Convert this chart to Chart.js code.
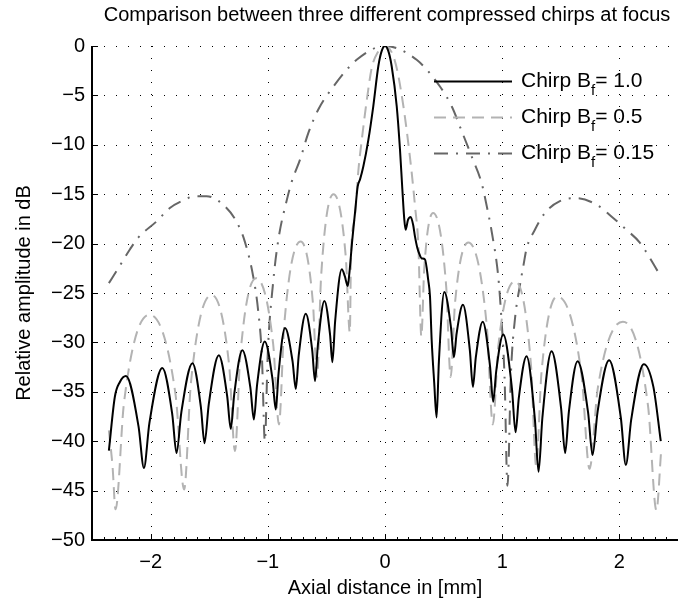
<!DOCTYPE html>
<html>
<head>
<meta charset="utf-8">
<script src="https://cdn.jsdelivr.net/npm/chart.js@4/dist/chart.umd.min.js"></script>
<style>
  html, body { margin: 0; padding: 0; background: #ffffff; }
  #wrap { width: 690px; height: 601px; position: relative; }
</style>
</head>
<body>
<div id="wrap"><canvas id="c" width="690" height="601"></canvas></div>
<script>
// ---------------- data ----------------
const chartTitle = 'Comparison between three different compressed chirps at focus';
const xAxisTitle = 'Axial distance in [mm]';
const yAxisTitle = 'Relative amplitude in dB';

const xTickValues = [-2, -1, 0, 1, 2];
const xTickLabels = ['\u22122', '\u22121', '0', '1', '2'];
const yTickValues = [-50, -45, -40, -35, -30, -25, -20, -15, -10, -5, 0];
const yTickLabels = ['\u221250', '\u221245', '\u221240', '\u221235', '\u221230', '\u221225', '\u221220', '\u221215', '\u221210', '\u22125', '0'];

const seriesMain = ['Chirp B', 'Chirp B', 'Chirp B'];
const seriesSub  = ['f', 'f', 'f'];
const seriesRest = ['= 1.0', '= 0.5', '= 0.15'];

// Chirp Bf = 1.0  [axial distance mm, amplitude dB]
const chirp10 = [
  [-2.356,-40.95],[-2.305,-35.5],[-2.262,-34.0],[-2.210,-33.4],[-2.103,-38.5],[-2.057,-42.7],
  [-2.010,-38.15],[-1.900,-32.6],[-1.815,-37.3],[-1.779,-41.2],[-1.738,-37.1],[-1.643,-32.1],
  [-1.571,-36.55],[-1.540,-40.2],[-1.503,-36.2],[-1.418,-31.3],[-1.347,-35.4],[-1.316,-38.75],
  [-1.286,-35.2],[-1.217,-30.8],[-1.148,-34.65],[-1.119,-37.8],[-1.091,-34.25],[-1.026,-29.9],
  [-0.960,-33.7],[-0.932,-36.8],[-0.908,-33.1],[-0.853,-28.55],[-0.789,-31.9],[-0.761,-34.7],
  [-0.736,-31.3],[-0.676,-27.1],[-0.621,-30.8],[-0.597,-33.9],[-0.573,-30.3],[-0.517,-25.8],
  [-0.469,-29.2],[-0.449,-32.0],[-0.425,-27.8],[-0.369,-22.6],[-0.343,-23.3],[-0.318,-24.3],
  [-0.304,-23.0],[-0.279,-19.6],[-0.256,-16.9],[-0.233,-14.2],[-0.213,-13.5],[-0.185,-12.2],
  [-0.142,-9.5],[-0.100,-6.1],[-0.057,-2.05],[-0.028,-0.5],[0.000,0.0],[0.028,-0.5],
  [0.057,-2.05],[0.100,-6.1],[0.128,-10.5],[0.148,-14.5],[0.165,-17.6],[0.176,-18.6],
  [0.196,-17.6],[0.219,-17.3],[0.240,-18.1],[0.256,-19.3],[0.276,-20.45],[0.298,-21.2],
  [0.313,-21.5],[0.341,-21.6],[0.369,-23.7],[0.384,-25.35],[0.398,-29.7],[0.420,-34.1],
  [0.440,-37.6],[0.460,-31.9],[0.506,-24.9],[0.563,-28.5],[0.588,-31.5],[0.611,-29.1],
  [0.665,-26.2],[0.724,-30.8],[0.750,-34.5],[0.775,-31.5],[0.834,-27.9],[0.896,-32.4],
  [0.923,-36.0],[0.949,-32.9],[1.009,-29.2],[1.083,-34.65],[1.114,-39.1],[1.142,-35.6],
  [1.208,-31.4],[1.279,-37.8],[1.310,-43.1],[1.343,-37.6],[1.421,-30.9],[1.502,-36.6],
  [1.537,-41.2],[1.569,-37.0],[1.643,-31.9],[1.733,-37.1],[1.771,-41.4],[1.813,-37.1],
  [1.912,-31.8],[2.012,-37.6],[2.055,-42.4],[2.101,-37.8],[2.208,-32.2],[2.290,-34.5],
  [2.353,-40.0]
];

// Chirp Bf = 0.5
const chirp05 = [
  [-2.356,-38.9],[-2.325,-42.5],[-2.299,-46.9],[-2.227,-36.1],[-2.010,-27.2],[-1.788,-35.2],
  [-1.714,-44.9],[-1.656,-34.1],[-1.480,-25.2],[-1.330,-32.3],[-1.280,-41.0],[-1.235,-31.4],
  [-1.100,-23.5],[-0.954,-30.2],[-0.905,-38.3],[-0.859,-28.1],[-0.720,-19.8],[-0.615,-26.0],
  [-0.580,-33.5],[-0.545,-23.3],[-0.440,-15.0],[-0.335,-21.3],[-0.300,-29.0],[-0.290,-21.3],
  [-0.256,-17.2],[-0.228,-12.7],[-0.194,-9.1],[-0.151,-5.1],[-0.113,-2.2],[-0.060,-0.6],
  [0.000,0.0],[0.060,-0.7],[0.105,-2.5],[0.157,-6.1],[0.191,-9.1],[0.228,-12.85],
  [0.256,-16.2],[0.285,-20.3],[0.310,-29.4],[0.335,-22.5],[0.410,-16.9],[0.5225,-24.4],
  [0.560,-33.5],[0.5975,-26.0],[0.710,-19.9],[0.8675,-28.2],[0.920,-38.3],[0.9675,-30.3],
  [1.110,-23.8],[1.245,-32.2],[1.290,-42.5],[1.335,-33.1],[1.470,-25.35],[1.676,-33.2],
  [1.745,-42.8],[1.816,-34.6],[2.030,-27.9],[2.245,-36.5],[2.316,-47.0],[2.356,-41.0]
];

// Chirp Bf = 0.15
const chirp015 = [
  [-2.356,-24.0],[-2.276,-22.5],[-2.177,-20.6],[-2.106,-19.4],[-1.949,-17.75],[-1.836,-16.4],
  [-1.708,-15.55],[-1.622,-15.2],[-1.523,-15.2],[-1.381,-16.06],[-1.268,-17.75],[-1.196,-19.8],
  [-1.125,-23.3],[-1.083,-26.7],[-1.050,-31.5],[-1.025,-40.0],[-1.000,-31.0],[-0.955,-24.0],
  [-0.910,-19.6],[-0.838,-15.6],[-0.795,-13.7],[-0.725,-11.5],[-0.654,-8.8],[-0.568,-6.4],
  [-0.440,-4.1],[-0.242,-1.4],[0.000,0.0],[0.270,-1.4],[0.469,-4.1],[0.569,-6.1],
  [0.654,-8.6],[0.740,-11.2],[0.825,-13.9],[0.868,-16.2],[0.912,-18.9],[0.966,-23.3],
  [0.990,-27.0],[1.020,-33.5],[1.045,-44.5],[1.075,-33.0],[1.110,-27.5],[1.150,-24.3],
  [1.180,-22.3],[1.208,-20.5],[1.279,-18.6],[1.364,-16.9],[1.492,-15.7],[1.634,-15.4],
  [1.805,-16.06],[1.947,-17.4],[2.060,-18.6],[2.174,-19.9],[2.345,-23.15]
];

// ---------------- styling ----------------
const FONT = '"Liberation Sans", Arial, Helvetica, sans-serif';
const seriesColors = ['#000000', '#b3b3b3', '#666666'];
const seriesDash = [[], [12, 7], [14, 8, 2, 8]];

function toXY(arr) { return arr.map(p => ({ x: p[0], y: p[1] })); }

const decor = {
  id: 'decor',
  beforeDatasetsDraw(chart) {
    const { ctx, chartArea: a, scales: { x, y } } = chart;
    ctx.save();
    ctx.strokeStyle = '#000';
    ctx.lineWidth = 1;
    ctx.setLineDash([1, 11]);
    xTickValues.forEach(v => {
      const px = Math.round(x.getPixelForValue(v)) + 0.5;
      ctx.beginPath(); ctx.moveTo(px, a.top); ctx.lineTo(px, a.bottom); ctx.stroke();
    });
    yTickValues.forEach(v => {
      if (v === y.min) return;
      const py = Math.round(y.getPixelForValue(v)) + 0.5;
      ctx.beginPath(); ctx.moveTo(a.left, py); ctx.lineTo(a.right, py); ctx.stroke();
    });
    ctx.restore();
  },
  afterDatasetsDraw(chart) {
    const { ctx, chartArea: a, scales: { x, y } } = chart;
    ctx.save();
    // axis lines
    ctx.strokeStyle = '#000';
    ctx.lineWidth = 2;
    ctx.setLineDash([]);
    ctx.beginPath();
    ctx.moveTo(a.left, a.top); ctx.lineTo(a.left, a.bottom); ctx.lineTo(a.right, a.bottom);
    ctx.stroke();
    // ticks (inward)
    ctx.lineWidth = 1;
    xTickValues.forEach(v => {
      const px = Math.round(x.getPixelForValue(v)) + 0.5;
      ctx.beginPath(); ctx.moveTo(px, a.bottom); ctx.lineTo(px, a.bottom - 6); ctx.stroke();
    });
    for (let k = -24; k <= 24; k++) {
      if (k % 10 === 0) continue;
      const px = Math.round(x.getPixelForValue(k / 10)) + 0.5;
      ctx.beginPath(); ctx.moveTo(px, a.bottom); ctx.lineTo(px, a.bottom - 3); ctx.stroke();
    }
    yTickValues.forEach(v => {
      const py = Math.round(y.getPixelForValue(v)) + 0.5;
      ctx.beginPath(); ctx.moveTo(a.left, py); ctx.lineTo(a.left + 6, py); ctx.stroke();
    });
    // titles
    ctx.fillStyle = '#000';
    ctx.font = '20px ' + FONT;
    ctx.textAlign = 'center';
    ctx.textBaseline = 'alphabetic';
    const cx = (a.left + a.right) / 2;
    ctx.fillText(chartTitle, cx + 2, 21);
    ctx.fillText(xAxisTitle, cx, 594);
    ctx.save();
    ctx.translate(30, (a.top + a.bottom) / 2);
    ctx.rotate(-Math.PI / 2);
    ctx.fillText(yAxisTitle, 0, 0);
    ctx.restore();
    // legend
    ctx.textAlign = 'left';
    const rows = [81, 117, 153];
    rows.forEach((ry, i) => {
      ctx.save();
      ctx.strokeStyle = seriesColors[i];
      ctx.lineWidth = 2;
      ctx.setLineDash(seriesDash[i]);
      ctx.beginPath(); ctx.moveTo(434, ry + 0.5); ctx.lineTo(512, ry + 0.5); ctx.stroke();
      ctx.restore();
      let tx = 521;
      const base = ry + 6;
      ctx.font = '21px ' + FONT;
      ctx.fillText(seriesMain[i], tx, base);
      tx += ctx.measureText(seriesMain[i]).width;
      ctx.font = '15px ' + FONT;
      ctx.fillText(seriesSub[i], tx, base + 8);
      tx += ctx.measureText(seriesSub[i]).width;
      ctx.font = '21px ' + FONT;
      ctx.fillText(seriesRest[i], tx, base);
    });
    ctx.restore();
  }
};

const datasets = [chirp10, chirp05, chirp015].map((arr, i) => ({
  label: seriesMain[i] + seriesSub[i] + seriesRest[i],
  data: toXY(arr),
  borderColor: seriesColors[i],
  borderWidth: 2,
  borderDash: seriesDash[i],
  pointRadius: 0,
  fill: false,
  cubicInterpolationMode: 'monotone',
  borderCapStyle: 'butt',
  borderJoinStyle: 'round'
}));

new Chart(document.getElementById('c'), {
  type: 'line',
  data: { datasets },
  options: {
    responsive: false,
    animation: false,
    devicePixelRatio: 1,
    layout: { padding: { top: 46, right: 12, bottom: 0, left: 0 } },
    plugins: { legend: { display: false }, title: { display: false }, tooltip: { enabled: false } },
    scales: {
      x: {
        type: 'linear', min: -2.5, max: 2.5,
        afterBuildTicks: s => { s.ticks = xTickValues.map(v => ({ value: v })); },
        afterFit: s => { s.height = 61; },
        grid: { display: false, drawTicks: false },
        border: { display: false },
        ticks: {
          padding: 10, color: '#000', maxRotation: 0, autoSkip: false,
          font: { family: FONT, size: 20 },
          callback: (v, i) => xTickLabels[i]
        }
      },
      y: {
        type: 'linear', min: -50, max: 0,
        afterBuildTicks: s => { s.ticks = yTickValues.map(v => ({ value: v })); },
        afterFit: s => { s.width = 92; },
        grid: { display: false, drawTicks: false },
        border: { display: false },
        ticks: {
          padding: 7, color: '#000', autoSkip: false,
          font: { family: FONT, size: 20 },
          callback: (v, i) => yTickLabels[i]
        }
      }
    }
  },
  plugins: [decor]
});
</script>
</body>
</html>
